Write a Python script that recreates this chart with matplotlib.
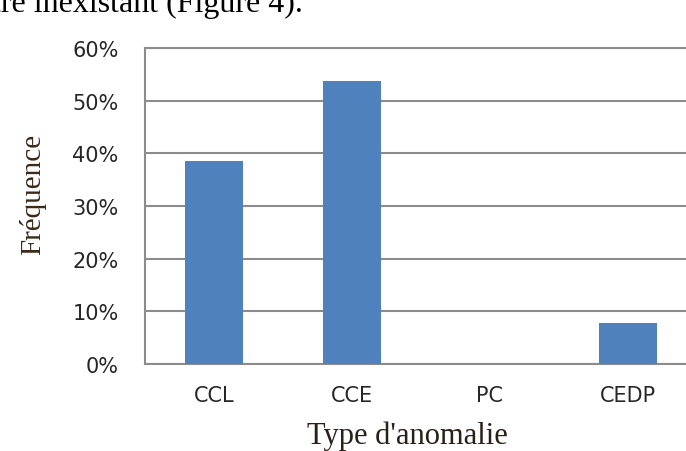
import matplotlib
matplotlib.use("Agg")
import matplotlib.pyplot as plt
from matplotlib.ticker import FuncFormatter

categories = ["CCL", "CCE", "PC", "CEDP"]
values = [38.5, 53.8, 0.0, 7.7]
yticks = [0, 10, 20, 30, 40, 50, 60]

W, H = 686, 452
fig = plt.figure(figsize=(W / 100, H / 100), dpi=100)

# axes: left 145px, right ~697px (off image), top 49px, bottom 365px
left, right, top, bottom = 145, 697, 49, 365
ax = fig.add_axes([left / W, 1 - bottom / H, (right - left) / W, (bottom - top) / H])

x = list(range(len(categories)))
ax.bar(x, values, width=0.42, color="#4f81bd", zorder=3)
ax.set_xlim(-0.5, len(categories) - 0.5)
ax.set_ylim(0, 60)
ax.set_yticks(yticks)
ax.yaxis.set_major_formatter(FuncFormatter(lambda v, p: f"{int(v)}%"))
ax.set_xticks(x)
ax.set_xticklabels(categories)

ax.grid(axis="y", color="#8c8c8c", linewidth=1.5, zorder=1)
for s in ["left", "top", "bottom"]:
    ax.spines[s].set_color("#8c8c8c")
    ax.spines[s].set_linewidth(1.5)
ax.spines["right"].set_visible(False)
ax.tick_params(axis="both", length=0, labelsize=15, colors="#262626")
ax.tick_params(axis="y", pad=19)
ax.tick_params(axis="x", pad=15)
for lab in ax.get_xticklabels() + ax.get_yticklabels():
    lab.set_family("DejaVu Sans")

fig.text(407 / W, 1 - 436 / H, "Type d'anomalie", family="Liberation Serif", fontsize=22,
         color="#2a2018", ha="center", va="center")
fig.text(33 / W, 1 - 194 / H, "Fréquence", family="Liberation Serif", fontsize=21,
         color="#3a2a1a", ha="center", va="center", rotation=90)

fig.text(-0.012, 1 - 12 / H, "tre inexistant (Figure 4).", family="Liberation Serif",
         fontsize=23, va="baseline", ha="left", color="black")

fig.savefig("out.png", dpi=100)
